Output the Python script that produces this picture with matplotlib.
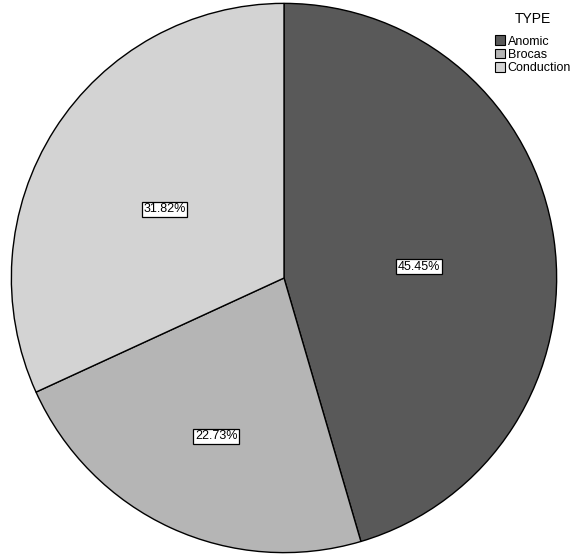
import numpy as np
import matplotlib
matplotlib.use("Agg")
import matplotlib.pyplot as plt
from matplotlib.patches import Patch

# share of cases per aphasia type
types = ["Anomic", "Brocas", "Conduction"]
shares = [45.45, 22.73, 31.82]
colors = ["#595959", "#b5b5b5", "#d3d3d3"]

fig = plt.figure(figsize=(5.71, 5.55), dpi=100)
fig.patch.set_facecolor("white")

# pie axes: square area spanning nearly the full height
ax = fig.add_axes([10 / 571, 1 / 555, 548 / 571, 552 / 555])

wedges, _, autotexts = ax.pie(
    shares,
    colors=colors,
    startangle=90,
    counterclock=False,
    autopct=lambda p: f"{p:.2f}%",
    wedgeprops=dict(edgecolor="black", linewidth=1.0),
    textprops=dict(fontsize=9, family="Liberation Sans"),
)
ax.set_xlim(-1.005, 1.005)
ax.set_ylim(-1.005, 1.005)
ax.set_aspect("auto")

# percent labels sit at slightly different radii per slice
label_r = [0.50, 0.60, 0.52]
for w, t, r in zip(wedges, autotexts, label_r):
    mid = np.deg2rad((w.theta1 + w.theta2) / 2)
    t.set_position((r * np.cos(mid), r * np.sin(mid) - 0.03))
    t.set_bbox(dict(facecolor="white", edgecolor="black", boxstyle="square,pad=0.12", linewidth=0.9))

handles = [Patch(facecolor=c, edgecolor="black", linewidth=0.8) for c in colors]
leg = fig.legend(
    handles, types,
    title="TYPE",
    loc="upper left",
    bbox_to_anchor=(486 / 571, 1 - 3 / 555),
    frameon=False,
    title_fontsize=10,
    handlelength=0.8,
    handleheight=0.8,
    handletextpad=0.25,
    labelspacing=0.1,
    borderpad=0.2,
    prop=dict(family="Liberation Sans", size=9),
)
leg.get_title().set_family("Liberation Sans")
leg._legend_box.sep = 7

fig.savefig("out.png", dpi=100, facecolor="white")
